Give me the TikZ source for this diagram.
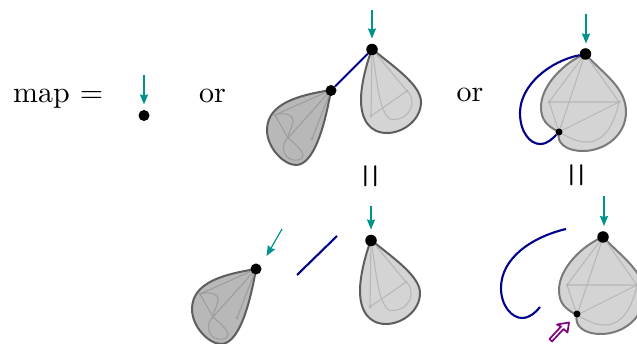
\documentclass[tikz,border=0pt]{standalone}
\usetikzlibrary{arrows.meta}
\definecolor{tealc}{RGB}{0,146,140}
\definecolor{navyc}{RGB}{0,0,139}
\definecolor{purpc}{RGB}{128,0,128}
\font\lmbig="[lmroman10-regular]" at 30pt
\tikzset{
 dot/.style={circle,fill=black,inner sep=0pt,minimum size=#1},
 dot/.default=11.5pt,
 entry/.style={draw=tealc,line width=1.2pt,-{Stealth[length=10pt,width=8pt,inset=1pt]}},
 blue/.style={draw=navyc,line width=2.1pt},
 outline/.style={draw=black!63,line width=2pt},
 outlinelight/.style={draw=black!52,line width=2pt},
 inner/.style={draw=black!28,line width=1.1pt},
 innerdark/.style={draw=black!38,line width=1.1pt},
 lbl/.style={inner sep=0pt,font=\lmbig},
}
\newcommand{\rightleaf}{%
 \path[outline,fill=black!17] (372,49) .. controls (393,66) and (421,85) .. (421,102)
   .. controls (421,120) and (403,133) .. (387,133)
   .. controls (370,133) and (361,120) .. (361,100)
   .. controls (361,85) and (366,65) .. (372,49) -- cycle;
 \draw[inner] (372,49) -- (407,91) -- (371,116) -- cycle;
 \draw[inner] (372,49) .. controls (377,80) and (379,112) .. (390,119)
   .. controls (402,122) and (412,112) .. (412,103) .. controls (412,97) and (410,93) .. (407,91);
 \fill[black!30] (407,91) circle (1.5) (371,116) circle (1.5);
}
\newcommand{\leftleaf}{%
 \path[outline,fill=black!28] (331,90) .. controls (300,95) and (267,103) .. (267,130)
   .. controls (267,148) and (284,165) .. (296,165)
   .. controls (314,165) and (325,125) .. (331,90) -- cycle;
 \draw[innerdark] (331,90) -- (275,115) -- (288,138) -- cycle;
 \draw[innerdark] (331,90) -- (312,139);
 \draw[innerdark] (275,115) .. controls (285,112) and (294,115) .. (293,122)
   .. controls (292,128) and (288,133) .. (288,138)
   .. controls (282,143) and (282,152) .. (287,157)
   .. controls (292,162) and (304,161) .. (303,155)
   .. controls (302,150) and (294,143) .. (288,138);
 \fill[black!38] (275,115) circle (1.5) (288,138) circle (1.5) (312,139) circle (1.5);
}
\newcommand{\bigleaf}{%
 \path[outlinelight,fill=black!17] (585,54) .. controls (605,75) and (626,88) .. (626,112)
   .. controls (626,135) and (605,151) .. (583,151)
   .. controls (565,151) and (556,142) .. (559,132)
   .. controls (547,126) and (541,120) .. (541,107)
   .. controls (541,85) and (565,62) .. (585,54) -- cycle;
 \draw[inner] (585,54) -- (549,102) -- (619,102) -- cycle;
 \draw[inner] (585,54) -- (559,132) -- (549,102);
 \draw[inner] (559,132) -- (619,102);
 \draw[inner] (559,132) .. controls (570,138) and (577,142) .. (587,142)
   .. controls (605,142) and (615,122) .. (619,102);
 \fill[black!30] (549,102) circle (1.5) (619,102) circle (1.5);
}
\begin{document}
\begin{tikzpicture}[x=1pt,y=-1pt]
\useasboundingbox (0,0) rectangle (637,344);
% text
\node[lbl,anchor=base west] (map) at (13,102.5) {map =};
\node[lbl,anchor=base] (or1) at (212.5,102.5) {or};
\node[lbl,anchor=base] (or2) at (470,102) {or};
\node[lbl,rotate=90] (eq1) at (374.5,176) {\scalebox{1.05}[1.7]{=}};
\node[lbl,rotate=90] (eq2) at (580.5,175) {\scalebox{1.05}[1.7]{=}};
% single vertex
\node[dot=11pt] (v0) at (144,115.5) {};
\coordinate (a0) at (144,75);
\draw[entry] (a0) -- (144,104.5);
% top middle
\leftleaf
\rightleaf
\node[dot] (v1) at (372,49.5) {};
\node[dot=11pt] (v2) at (331,90.5) {};
\draw[blue] (v1) -- (v2);
\coordinate (a1) at (372,10);
\draw[entry] (a1) -- (372,38.5);
% top right
\bigleaf
\node[dot] (v3) at (585.5,54) {};
\node[dot=7pt] (v4) at (559,132) {};
\draw[blue] (v3) .. controls (550,61) and (520,85) .. (520,113)
  .. controls (520,132) and (530,144) .. (540,144)
  .. controls (548,144) and (553,138) .. (v4);
\coordinate (a2) at (586,14);
\draw[entry] (a2) -- (586,43.5);
% bottom left leaf
\begin{scope}[shift={(-75,179)}]
 \leftleaf
 \node[dot=11pt] (v5) at (331,90) {};
\end{scope}
\coordinate (a3) at (282,229);
\draw[entry] (a3) -- (266.5,256);
% free edge
\coordinate (e1) at (297,275);
\coordinate (e2) at (337,236);
\draw[blue] (e1) -- (e2);
% bottom middle right leaf
\begin{scope}[shift={(-1,191)}]
 \rightleaf
 \node[dot] (v6) at (372,49.5) {};
\end{scope}
\coordinate (a4) at (371,206);
\draw[entry] (a4) -- (371,229.5);
% bottom right
\begin{scope}
 \clip (0,0) rectangle (637,344);
 \begin{scope}[shift={(18,183)}]
 \bigleaf
 \node[dot] (v7) at (585,54) {};
 \node[dot=7pt] (v8) at (559,131) {};
 \end{scope}
\end{scope}
\coordinate (a5) at (604,196);
\draw[entry] (a5) -- (604,226);
\coordinate (e3) at (566,229);
\coordinate (e4) at (540,307);
\draw[blue] (e3) .. controls (532,237) and (501,258) .. (501,288)
  .. controls (501,306) and (512,318) .. (522,318)
  .. controls (530,318) and (536,312) .. (e4);
% purple marker
\draw[draw=purpc,line width=1.7pt,line join=round]
  (569,322.5) -- (567.5,332.5) -- (563.5,329) -- (552,341.5) -- (549.5,339) -- (561,326.5) -- (557,324.5) -- cycle;
\end{tikzpicture}
\end{document}
